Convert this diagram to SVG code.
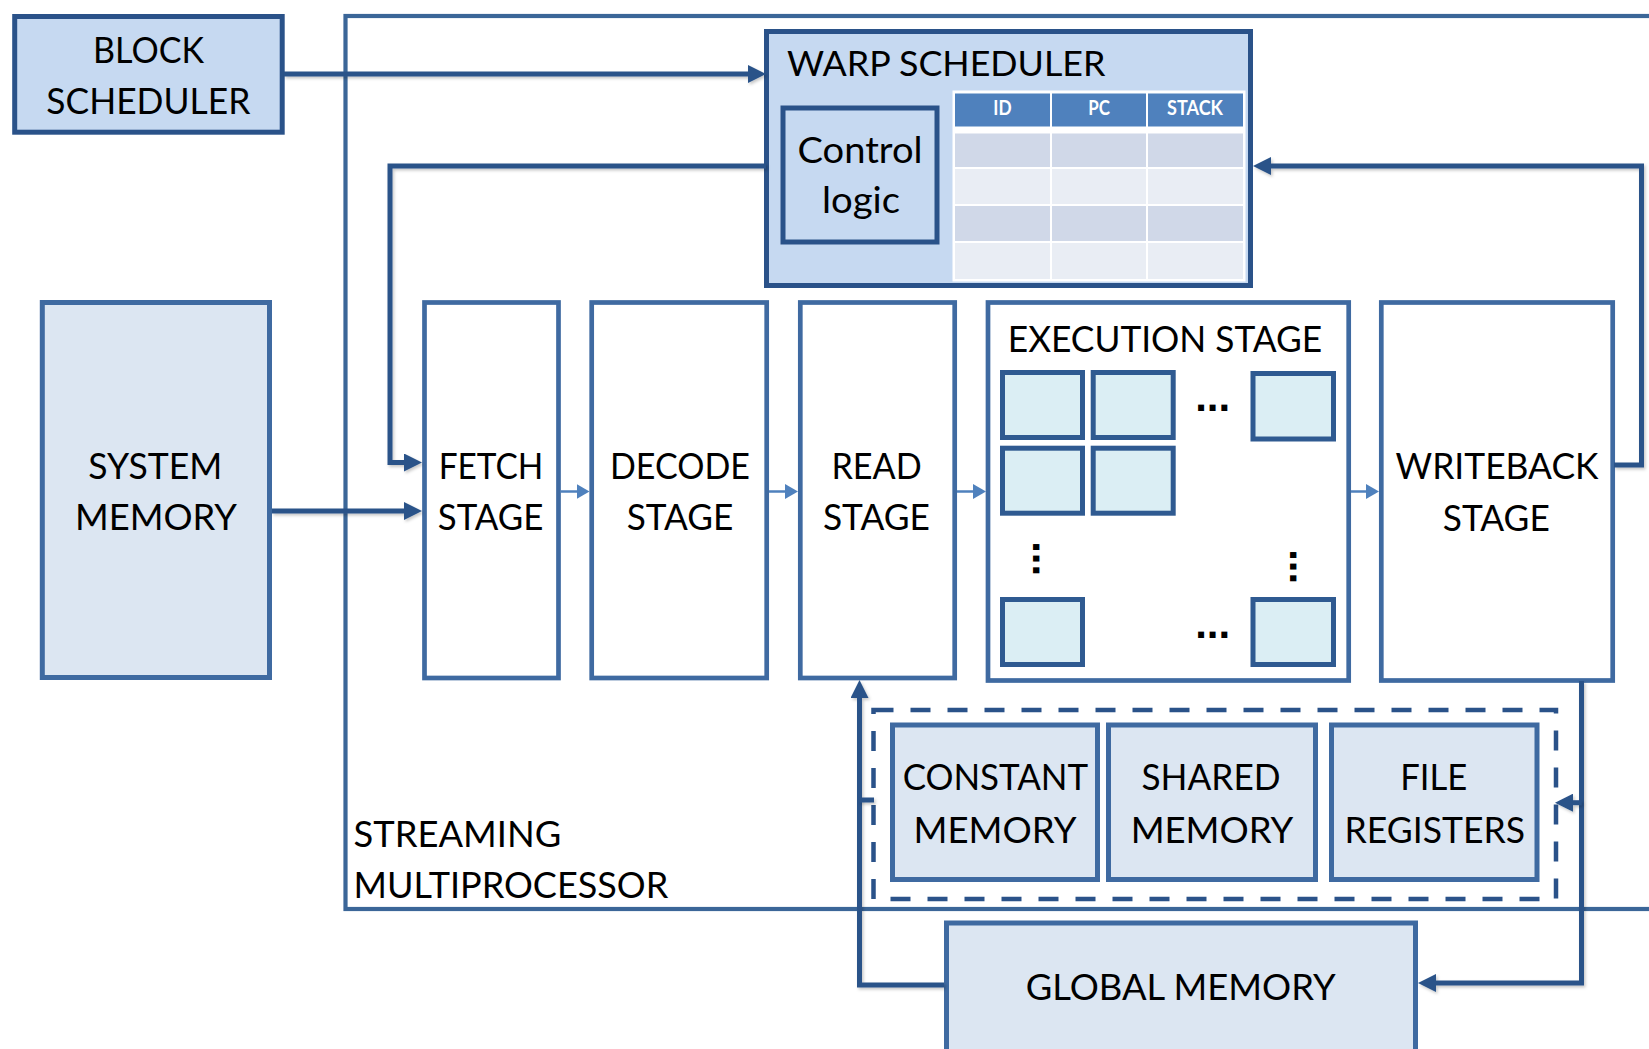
<svg xmlns="http://www.w3.org/2000/svg" width="1649" height="1049" viewBox="0 0 1649 1049">
  <style>
    .lbl { font-family: Lato, "Open Sans", "Liberation Sans", sans-serif; font-size: 37.5px; fill: #000; }
    .mid { text-anchor: middle; }
    .hdr { font-family: Lato, "Liberation Sans", sans-serif; font-weight: bold; font-size: 21px; fill: #fff; text-anchor: middle; }
    .dots { font-family: "Liberation Sans", Arial, sans-serif; font-weight: bold; font-size: 42px; fill: #000; }
    .sched { fill: #c6d9f1; stroke: #2a5289; stroke-width: 5; }
    .stage { fill: #fff; stroke: #3f6aa1; stroke-width: 4.7; }
    .mem { fill: #dce6f2; stroke: #3f6aa1; stroke-width: 5; }
    .alu { fill: #dbeef4; stroke: #2f5a91; stroke-width: 5; }
    .wire { fill: none; stroke: #2a5289; stroke-width: 5; filter: url(#shadow); }
    .thin { fill: none; stroke: #4f81bd; stroke-width: 2.5; }
    .band1 { fill: #d0d8e8; }
    .band2 { fill: #e9edf4; }
    .thead { fill: #4f81bd; }
  </style>
  <defs>
    <marker id="head" markerUnits="userSpaceOnUse" markerWidth="18" markerHeight="18" refX="8" refY="9" orient="auto">
      <path d="M0,0 L18,9 L0,18 z" fill="#2a5289"/>
    </marker>
    <marker id="headSm" markerUnits="userSpaceOnUse" markerWidth="13" markerHeight="15" refX="3" refY="7.5" orient="auto">
      <path d="M0,0 L13,7.5 L0,15 z" fill="#4f81bd"/>
    </marker>
    <filter id="shadow" filterUnits="userSpaceOnUse" x="0" y="0" width="1649" height="1049">
      <feDropShadow dx="1.5" dy="2" stdDeviation="1.5" flood-color="#000" flood-opacity="0.22"/>
    </filter>
  </defs>

  <rect width="1649" height="1049" fill="#fff"/>

  <!-- streaming multiprocessor outline (open to the right) -->
  <g id="streaming-multiprocessor">
    <rect x="345.5" y="16" width="1400" height="893" fill="none" stroke="#3b6698" stroke-width="4.2"/>
    <text class="lbl" x="353.6" y="846.7" textLength="207.6" lengthAdjust="spacingAndGlyphs">STREAMING</text>
    <text class="lbl" x="353.6" y="898.3" textLength="314.7" lengthAdjust="spacingAndGlyphs">MULTIPROCESSOR</text>
  </g>

  <g id="block-scheduler">
    <rect class="sched" x="14.7" y="16.5" width="267.5" height="115.7"/>
    <text class="lbl mid" x="148.5" y="63.3" textLength="111" lengthAdjust="spacingAndGlyphs">BLOCK</text>
    <text class="lbl mid" x="148.3" y="114.3" textLength="204" lengthAdjust="spacingAndGlyphs">SCHEDULER</text>
  </g>

  <g id="warp-scheduler">
    <rect class="sched" x="766.5" y="31.5" width="484" height="254"/>
    <text class="lbl" x="787" y="76" style="font-size:34px" textLength="318.5" lengthAdjust="spacingAndGlyphs">WARP SCHEDULER</text>
    <g id="control-logic">
      <rect class="sched" x="783" y="108" width="154" height="134" stroke-width="5.5"/>
      <text class="lbl mid" x="860" y="163.3" textLength="125" lengthAdjust="spacingAndGlyphs">Control</text>
      <text class="lbl mid" x="861" y="213.3" textLength="78" lengthAdjust="spacingAndGlyphs">logic</text>
    </g>
    <g id="warp-table">
      <rect x="952.5" y="90.5" width="293" height="191" fill="#fff"/>
      <rect class="thead" x="955" y="93.5" width="95" height="33"/>
      <rect class="thead" x="1052" y="93.5" width="94" height="33"/>
      <rect class="thead" x="1148" y="93.5" width="95" height="33"/>
      <text class="hdr" x="1002.5" y="115" textLength="18.3" lengthAdjust="spacingAndGlyphs">ID</text>
      <text class="hdr" x="1099" y="115" textLength="21.7" lengthAdjust="spacingAndGlyphs">PC</text>
      <text class="hdr" x="1195" y="115" textLength="56" lengthAdjust="spacingAndGlyphs">STACK</text>
      <rect class="band1" x="955" y="133.5" width="95" height="33.5"/>
      <rect class="band1" x="1052" y="133.5" width="94" height="33.5"/>
      <rect class="band1" x="1148" y="133.5" width="95" height="33.5"/>
      <rect class="band2" x="955" y="169" width="95" height="35"/>
      <rect class="band2" x="1052" y="169" width="94" height="35"/>
      <rect class="band2" x="1148" y="169" width="95" height="35"/>
      <rect class="band1" x="955" y="206" width="95" height="35"/>
      <rect class="band1" x="1052" y="206" width="94" height="35"/>
      <rect class="band1" x="1148" y="206" width="95" height="35"/>
      <rect class="band2" x="955" y="243" width="95" height="36"/>
      <rect class="band2" x="1052" y="243" width="94" height="36"/>
      <rect class="band2" x="1148" y="243" width="95" height="36"/>
    </g>
  </g>

  <g id="system-memory">
    <rect class="mem" x="42.3" y="302.5" width="227.2" height="375"/>
    <text class="lbl mid" x="155.3" y="479.3" textLength="134" lengthAdjust="spacingAndGlyphs">SYSTEM</text>
    <text class="lbl mid" x="156" y="530" textLength="162" lengthAdjust="spacingAndGlyphs">MEMORY</text>
  </g>

  <g id="fetch-stage">
    <rect class="stage" x="424.5" y="302.5" width="134" height="375.5"/>
    <text class="lbl mid" x="491" y="479.3" textLength="104.6" lengthAdjust="spacingAndGlyphs">FETCH</text>
    <text class="lbl mid" x="490.6" y="530" textLength="105.6" lengthAdjust="spacingAndGlyphs">STAGE</text>
  </g>

  <g id="decode-stage">
    <rect class="stage" x="591.7" y="302.5" width="175" height="375.5"/>
    <text class="lbl mid" x="680" y="479.3" textLength="140" lengthAdjust="spacingAndGlyphs">DECODE</text>
    <text class="lbl mid" x="680" y="530" textLength="106.6" lengthAdjust="spacingAndGlyphs">STAGE</text>
  </g>

  <g id="read-stage">
    <rect class="stage" x="800.3" y="302.5" width="154.4" height="375.5"/>
    <text class="lbl mid" x="876.6" y="479.3" textLength="90.4" lengthAdjust="spacingAndGlyphs">READ</text>
    <text class="lbl mid" x="876.4" y="530" textLength="107" lengthAdjust="spacingAndGlyphs">STAGE</text>
  </g>

  <g id="execution-stage">
    <rect class="stage" x="988" y="302.5" width="360.7" height="378"/>
    <text class="lbl mid" x="1165" y="351.7" textLength="314.5" lengthAdjust="spacingAndGlyphs">EXECUTION STAGE</text>
    <rect class="alu" x="1002.5" y="372.5" width="80" height="65"/>
    <rect class="alu" x="1093.2" y="372.5" width="80" height="65"/>
    <rect class="alu" x="1253" y="373.5" width="80.5" height="65.5"/>
    <rect class="alu" x="1002.5" y="448.2" width="80" height="65"/>
    <rect class="alu" x="1093.2" y="448.2" width="80" height="65"/>
    <rect class="alu" x="1002.5" y="599.5" width="80" height="65"/>
    <rect class="alu" x="1253" y="599.5" width="80.5" height="65"/>
    <text class="dots" x="1195.2" y="410.7">...</text>
    <text class="dots" x="1195.2" y="638">...</text>
    <text class="dots" x="0" y="2.9" transform="translate(1035.5 541.2) rotate(90)">...</text>
    <text class="dots" x="0" y="2.9" transform="translate(1292.7 549.2) rotate(90)">...</text>
  </g>

  <g id="writeback-stage">
    <rect class="stage" x="1381.3" y="302.5" width="231.4" height="378"/>
    <text class="lbl mid" x="1497" y="479.3" textLength="203" lengthAdjust="spacingAndGlyphs">WRITEBACK</text>
    <text class="lbl mid" x="1496.3" y="530.7" textLength="107" lengthAdjust="spacingAndGlyphs">STAGE</text>
  </g>

  <g id="on-chip-memories">
    <rect x="873.5" y="710" width="682.5" height="189" fill="none" stroke="#2a5289" stroke-width="4.5" stroke-dasharray="20 17"/>
    <g id="constant-memory">
      <rect class="mem" x="892.5" y="725" width="205" height="154.5"/>
      <text class="lbl mid" x="995.4" y="790" textLength="185.5" lengthAdjust="spacingAndGlyphs">CONSTANT</text>
      <text class="lbl mid" x="995" y="842.7" textLength="163" lengthAdjust="spacingAndGlyphs">MEMORY</text>
    </g>
    <g id="shared-memory">
      <rect class="mem" x="1108.5" y="725" width="207" height="154.5"/>
      <text class="lbl mid" x="1211" y="790" textLength="139" lengthAdjust="spacingAndGlyphs">SHARED</text>
      <text class="lbl mid" x="1212" y="842.7" textLength="162.7" lengthAdjust="spacingAndGlyphs">MEMORY</text>
    </g>
    <g id="file-registers">
      <rect class="mem" x="1331.5" y="725" width="205.5" height="154.5"/>
      <text class="lbl mid" x="1433.8" y="790" textLength="67" lengthAdjust="spacingAndGlyphs">FILE</text>
      <text class="lbl mid" x="1434.8" y="842.7" textLength="180.5" lengthAdjust="spacingAndGlyphs">REGISTERS</text>
    </g>
  </g>

  <g id="global-memory">
    <rect class="mem" x="946.5" y="923" width="469" height="140"/>
    <text class="lbl mid" x="1180.7" y="1000" textLength="310" lengthAdjust="spacingAndGlyphs">GLOBAL MEMORY</text>
  </g>

  <g id="connectors">
    <path class="wire" d="M284 74 H756" marker-end="url(#head)"/>
    <path class="wire" d="M766 166 H390 V462.5 H412" marker-end="url(#head)"/>
    <path class="wire" d="M272 511 H412" marker-end="url(#head)"/>
    <path class="wire" d="M1614 465 H1641.5 V166 H1263" marker-end="url(#head)"/>
    <path class="wire" d="M1581.5 681 V983 H1428" marker-end="url(#head)"/>
    <path class="wire" d="M1581.5 802.7 H1565" marker-end="url(#head)"/>
    <path class="wire" d="M944 985 H859.5 V690" marker-end="url(#head)"/>
    <path class="wire" d="M859.5 800 H874"/>
    <path class="thin" d="M560.5 491.5 H579.5" marker-end="url(#headSm)"/>
    <path class="thin" d="M769 491.5 H788" marker-end="url(#headSm)"/>
    <path class="thin" d="M957 491.5 H976" marker-end="url(#headSm)"/>
    <path class="thin" d="M1351 491.5 H1369" marker-end="url(#headSm)"/>
  </g>
</svg>
